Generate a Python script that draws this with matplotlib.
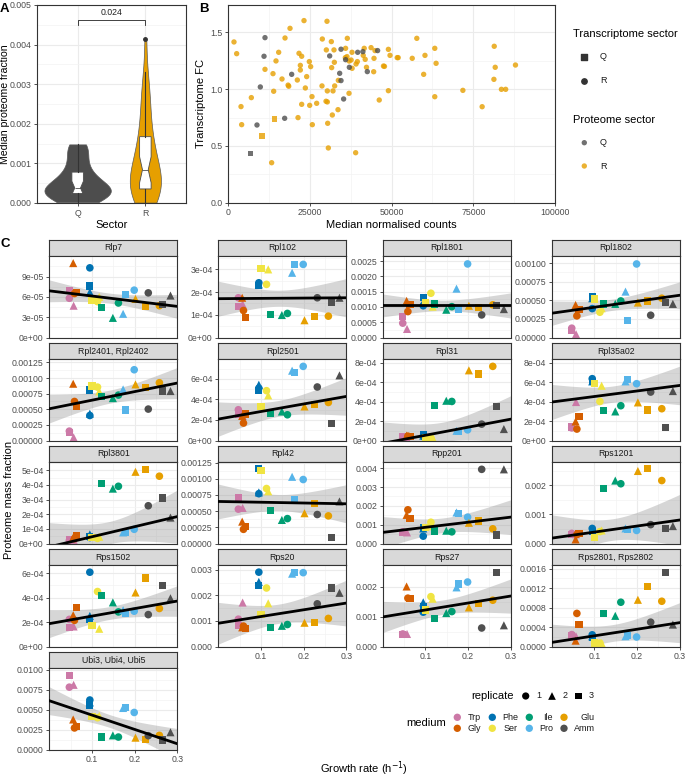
import numpy as np
import matplotlib
matplotlib.use("Agg")
import matplotlib.pyplot as plt

plt.rcParams['font.family'] = ['Liberation Sans', 'DejaVu Sans']

# ---------------- data ----------------
# panel A: median proteome fraction per protein, by sector
q_frac = [0.00002, 0.00006, 0.0001, 0.00015, 0.00019, 0.00022, 0.00024, 0.00027, 0.0003, 0.00033,
          0.00035, 0.00036, 0.00038, 0.00042, 0.00048, 0.00055, 0.00063, 0.00072, 0.00078, 0.0009,
          0.00105, 0.0012, 0.00135, 0.00143, 0.00148]
r_frac = [0.00001, 0.00004, 0.00008, 0.00012, 0.00016, 0.0002, 0.00024, 0.00028, 0.00031, 0.00034,
          0.00036, 0.0004, 0.00045, 0.0005, 0.00056, 0.00062, 0.00068, 0.00074, 0.0008, 0.00083,
          0.00085, 0.0009, 0.00098, 0.00107, 0.00116, 0.00125, 0.00135, 0.00146, 0.00158, 0.00166,
          0.00172, 0.0019, 0.0021, 0.0023, 0.0025, 0.0026, 0.0028, 0.003, 0.0033, 0.00413]
p_value = "0.024"

# panel B: median normalised counts vs transcriptome FC
# proteome R / transcriptome R (orange circles)
rr_counts = [1740, 2560, 3890, 4090, 7050, 11230, 13270, 13680, 13890, 14600, 15420, 16440, 17360,
             18300, 18500, 18890, 21130, 21340, 21640, 22050, 22050, 22460, 22460, 23170, 23580,
             23990, 24800, 25210, 24910, 25620, 25720, 27050, 28680, 28780, 30010, 30210, 29910,
             30310, 30310, 30420, 30620, 31540, 31640, 31840, 32050, 32350, 32460, 32560, 33580,
             33680, 35820, 36330, 36430, 35900, 36950, 37860, 37000, 37900, 37600, 38980, 39100,
             39500, 41300, 41600, 41900, 42300, 43700, 44600, 44500, 44900, 46200, 47500, 47800,
             49000, 49000, 49500, 51700, 52000, 56300, 57700, 59800, 60200, 63200, 63200, 63600,
             71800, 77700, 81300, 81400, 81700, 83600, 84900, 87900]
rr_fc = [1.415, 1.312, 0.846, 0.687, 0.925, 1.174, 0.352, 1.136, 0.981, 1.248, 1.324, 1.089, 1.45,
         1.035, 1.025, 1.535, 1.080, 0.749, 1.315, 1.209, 1.168, 1.289, 0.866, 1.603, 1.010,
         1.110, 1.242, 1.198, 0.857, 0.934, 0.687, 0.875, 1.028, 1.441, 1.345, 1.597, 0.893,
         0.887, 0.984, 0.699, 0.482, 1.418, 1.189, 0.772, 0.984, 1.345, 1.236, 1.028, 0.819,
         1.077, 1.277, 1.286, 1.447, 1.359, 0.963, 1.324, 1.247, 1.183, 1.256, 0.440, 1.221,
         1.242, 1.297, 1.359, 1.262, 1.192, 1.365, 1.271, 1.153, 1.339, 0.904, 1.203, 1.200,
         0.986, 1.350, 1.297, 1.277, 1.277, 1.271, 1.447, 1.130, 1.297, 1.359, 0.933, 1.227,
         0.989, 0.845, 1.086, 1.377, 1.192, 0.998, 0.998, 1.212]
# proteome Q / transcriptome R (grey circles)
qr_counts = [8780, 9800, 10930, 11230, 17250, 19400, 31030, 34090, 34500, 34500, 35300, 35900,
             37050, 39600, 41200, 42550, 45700]
qr_fc = [0.684, 1.019, 1.289, 1.453, 0.743, 1.130, 1.292, 1.139, 1.351, 1.075, 0.913, 1.259,
         1.192, 1.324, 1.330, 1.154, 1.339]
# transcriptome Q (squares)
qq_counts = [6740]
qq_fc = [0.435]
rq_counts = [10300, 14090]
rq_fc = [0.587, 0.737]

# panel C: growth rates, order = medium x replicate(1, 2, 3)
media = ['Trp', 'Gly', 'Phe', 'Ser', 'Ile', 'Pro', 'Glu', 'Amm']
medium_colors = ['#CC79A7', '#D55E00', '#0072B2', '#F0E442', '#009E73', '#56B4E9', '#E69F00', '#505050']
replicates = ['1', '2', '3']
growth = [0.047, 0.057, 0.047,
          0.059, 0.056, 0.064,
          0.095, 0.095, 0.095,
          0.113, 0.117, 0.100,
          0.162, 0.149, 0.122,
          0.199, 0.173, 0.178,
          0.258, 0.202, 0.225,
          0.232, 0.284, 0.266]

rlp7 = [5.8e-5, 4.7e-5, 7.0e-5, 6.5e-5, 1.10e-4, 6.7e-5, 1.03e-4, 6.7e-5, 7.6e-5, 5.3e-5, 6.0e-5, 5.5e-5,
        5.1e-5, 2.9e-5, 4.4e-5, 7.0e-5, 3.5e-5, 6.4e-5, 4.7e-5, 5.7e-5, 4.6e-5, 6.6e-5, 6.2e-5, 4.9e-5]
rpl102 = [1.75e-4, 1.47e-4, 1.38e-4, 1.19e-4, 1.75e-4, 8.8e-5, 2.41e-4, 2.34e-4, 2.29e-4, 2.34e-4, 3.0e-4, 3.03e-4,
          1.06e-4, 9.9e-5, 1.0e-4, 3.22e-4, 2.85e-4, 3.22e-4, 9.4e-5, 7.6e-5, 9.4e-5, 1.75e-4, 1.75e-4, 1.56e-4]
rpl1801 = [4.7e-4, 2.8e-4, 6.9e-4, 8.5e-4, 1.2e-3, 1.07e-3, 1.04e-3, 1.15e-3, 1.3e-3, 1.45e-3, 1.01e-3, 1.15e-3,
           1.01e-3, 9.1e-4, 1.1e-3, 2.41e-3, 1.6e-3, 9.1e-4, 1.07e-3, 1.04e-3, 9.8e-4, 7.4e-4, 9.3e-4, 1.04e-3]
rpl1802 = [1.25e-4, 4.5e-5, 8.9e-5, 2.9e-4, 4.37e-4, 3.79e-4, 3.88e-4, 5.27e-4, 5.49e-4, 3.39e-4, 3.93e-4, 5.18e-4,
           4.91e-4, 4.51e-4, 4.51e-4, 9.87e-4, 6.16e-4, 2.28e-4, 5.27e-4, 4.69e-4, 4.91e-4, 2.99e-4, 4.51e-4, 4.73e-4]
rpl2401 = [1.5e-4, 5e-5, 1.25e-4, 6.25e-4, 9.09e-4, 5.45e-4, 4.0e-4, 4.3e-4, 8.08e-4, 8.55e-4, 7.86e-4, 8.71e-4,
           7.27e-4, 6.79e-4, 7.05e-4, 1.133e-3, 8.18e-4, 4.87e-4, 9.25e-4, 8.98e-4, 8.45e-4, 5.03e-4, 7.92e-4, 7.92e-4]
rpl2501 = [3.0e-4, 2.4e-4, 2.5e-4, 1.7e-4, 2.4e-4, 2.58e-4, 5.1e-4, 5.44e-4, 4.86e-4, 4.86e-4, 4.4e-4, 3.32e-4,
           2.51e-4, 2.83e-4, 2.68e-4, 7.23e-4, 6.81e-4, 6.64e-4, 3.71e-4, 3.32e-4, 3.49e-4, 5.22e-4, 6.35e-4, 1.66e-4]
rpl31 = [3e-5, 2e-5, 3.5e-5, 4.5e-5, 5e-5, 4e-5, 4e-5, 5e-5, 5.9e-5, 2.5e-5, 3e-5, 2.5e-5,
         4.03e-4, 4.1e-4, 3.59e-4, 1.1e-4, 1.0e-4, 9e-5, 7.65e-4, 7.24e-4, 6.86e-4, 1.69e-4, 1.18e-4, 3.48e-4]
rpl35a02 = [1.3e-4, 3.97e-4, 1.4e-4, 1.18e-4, 1.96e-4, 2.48e-4, 6.38e-4, 6.1e-4, 6.1e-4, 4.03e-4, 5.65e-4, 5.86e-4,
            3.59e-4, 3.0e-4, 3.07e-4, 5.86e-4, 6.1e-4, 6.27e-4, 3.28e-4, 3.93e-4, 3.14e-4, 5.0e-4, 5.1e-4, 1.38e-4]
rpl3801 = [2e-5, 2.5e-5, 2.5e-5, 3.3e-5, 4.1e-5, 5.7e-5, 4.1e-5, 6.2e-5, 5e-5, 3.5e-5, 4.6e-5, 3.9e-5,
           3.91e-4, 3.75e-4, 4.1e-4, 9.7e-5, 7.6e-5, 7.3e-5, 4.6e-4, 4.9e-4, 5.07e-4, 2.58e-4, 1.77e-4, 3.11e-4]
rpl42 = [5.31e-4, 5.5e-4, 7.13e-4, 2.19e-4, 3.38e-4, 2.6e-4, 7.7e-4, 7.9e-4, 1.156e-3, 8.5e-4, 8.07e-4, 1.13e-3,
         3.85e-4, 3.64e-4, 5.05e-4, 9.89e-4, 1.031e-3, 6.77e-4, 4.27e-4, 4.68e-4, 6.14e-4, 4.48e-4, 6.5e-4, 8.8e-5]
rpp201 = [6.2e-4, 5.9e-4, 5.9e-4, 1.79e-3, 1.52e-3, 1.34e-3, 3.9e-4, 8e-4, 8.5e-4, 1.13e-3, 9.2e-4, 8.6e-4,
          6.2e-4, 6.8e-4, 6.6e-4, 1.4e-3, 1.65e-3, 1.61e-3, 7.8e-4, 1.1e-3, 1.19e-3, 3.94e-3, 3.94e-3, 4.5e-4]
rps1201 = [3.49e-4, 3.2e-4, 3.1e-4, 3.1e-4, 1.4e-4, 3.35e-4, 5.2e-4, 4.7e-4, 4.1e-4, 4.1e-4, 4.5e-4, 1.97e-4,
           2.06e-3, 2.17e-3, 1.89e-3, 4.5e-4, 5.2e-4, 4.9e-4, 2.17e-3, 2.5e-3, 2.58e-3, 6.5e-4, 6.0e-4, 5.2e-4]
rps1502 = [2.22e-4, 1.64e-4, 1.58e-4, 2.14e-4, 2.56e-4, 3.17e-4, 6.08e-4, 2.5e-4, 2.2e-4, 4.5e-4, 1.45e-4, 1.73e-4,
           2.83e-4, 3.61e-4, 4.17e-4, 2.89e-4, 2.97e-4, 2.7e-4, 3.11e-4, 4.42e-4, 5.61e-4, 2.61e-4, 3.95e-4, 5.0e-4]
rps20 = [1.07e-3, 1.72e-3, 8.3e-4, 8e-4, 7.5e-4, 7e-4, 2.91e-3, 2.53e-3, 2.38e-3, 2.29e-3, 1.69e-3, 1.26e-3,
         8.6e-4, 8.1e-4, 7.4e-4, 2.89e-3, 2.85e-3, 2.89e-3, 1.1e-3, 9.3e-4, 9.5e-4, 1.67e-3, 2.1e-3, 2.29e-3]
rps27 = [4.2e-4, 4.2e-4, 3.9e-4, 1.62e-3, 2.01e-3, 1.6e-3, 1.15e-3, 1.48e-3, 1.32e-3, 1.67e-3, 1.6e-3, 1.22e-3,
         1.17e-3, 1.12e-3, 9.4e-4, 2.16e-3, 1.98e-3, 2.09e-3, 1.55e-3, 1.31e-3, 1.44e-3, 6.2e-4, 7.1e-4, 2.49e-3]
rps2801 = [2.45e-4, 2.1e-4, 2.2e-4, 6.8e-4, 1.2e-4, 4.5e-4, 2.4e-4, 2.1e-4, 1.8e-4, 7e-5, 7e-5, 7e-5,
           9.1e-4, 6.3e-4, 6.8e-4, 1.95e-4, 2.1e-4, 2.3e-4, 9.3e-4, 9.6e-4, 1.24e-3, 5e-4, 4.5e-4, 1.52e-3]
ubi = [7.81e-3, 8.1e-3, 9.28e-3, 2.7e-3, 3.76e-3, 2.91e-3, 6.2e-3, 5.9e-3, 5.57e-3, 3.98e-3, 4.2e-3, 4.09e-3,
       1.56e-3, 1.77e-3, 1.56e-3, 4.64e-3, 5.2e-3, 5.28e-3, 1.77e-3, 1.48e-3, 1.22e-3, 1.73e-3, 2.16e-3, 1.2e-3]

facet_names = ['Rlp7', 'Rpl102', 'Rpl1801', 'Rpl1802', 'Rpl2401, Rpl2402', 'Rpl2501', 'Rpl31', 'Rpl35a02',
               'Rpl3801', 'Rpl42', 'Rpp201', 'Rps1201', 'Rps1502', 'Rps20', 'Rps27', 'Rps2801, Rps2802',
               'Ubi3, Ubi4, Ubi5']
facet_values = [rlp7, rpl102, rpl1801, rpl1802, rpl2401, rpl2501, rpl31, rpl35a02,
                rpl3801, rpl42, rpp201, rps1201, rps1502, rps20, rps27, rps2801, ubi]
# fitted trend per facet: value at growth 0 and at growth 0.3
fit_start = [6.9e-5, 1.71e-4, 1.05e-3, 3.26e-4, 5.08e-4, 2.09e-4, -2.9e-5, 3.97e-4,
             -2.3e-5, 6.5e-4, 5.9e-4, 1.85e-4, 1.87e-4, 9.1e-4, 9.9e-4, 8.4e-5, 6.11e-3]
fit_end = [4.6e-5, 1.75e-4, 1.05e-3, 5.67e-4, 9.2e-4, 4.3e-4, 2.2e-4, 5.68e-4,
           1.84e-4, 6.14e-4, 1.40e-3, 8.1e-4, 3.72e-4, 1.7e-3, 1.69e-3, 4.9e-4, 7.2e-4]
facet_ytop = [1.205e-4, 3.59e-4, 2.67e-3, 1.094e-3, 1.305e-3, 7.95e-4, 8.41e-4, 8.41e-4,
              5.57e-4, 1.26e-3, 4.33e-3, 2.81e-3, 6.67e-4, 3.19e-3, 2.73e-3, 1.675e-3, 0.01021]
facet_yticks = [
    ["0e+00", "3e-05", "6e-05", "9e-05"],
    ["0e+00", "1e-04", "2e-04", "3e-04"],
    ["0.0000", "0.0005", "0.0010", "0.0015", "0.0020", "0.0025"],
    ["0.00000", "0.00025", "0.00050", "0.00075", "0.00100"],
    ["0.00000", "0.00025", "0.00050", "0.00075", "0.00100", "0.00125"],
    ["0e+00", "2e-04", "4e-04", "6e-04"],
    ["0e+00", "2e-04", "4e-04", "6e-04", "8e-04"],
    ["0e+00", "2e-04", "4e-04", "6e-04", "8e-04"],
    ["0e+00", "1e-04", "2e-04", "3e-04", "4e-04", "5e-04"],
    ["0.00000", "0.00025", "0.00050", "0.00075", "0.00100", "0.00125"],
    ["0.000", "0.001", "0.002", "0.003", "0.004"],
    ["0.000", "0.001", "0.002"],
    ["0e+00", "2e-04", "4e-04", "6e-04"],
    ["0.000", "0.001", "0.002", "0.003"],
    ["0.000", "0.001", "0.002"],
    ["0.0000", "0.0004", "0.0008", "0.0012", "0.0016"],
    ["0.0000", "0.0025", "0.0050", "0.0075", "0.0100"],
]

# ---------------- layout helpers ----------------
W, H = 685, 779
fig = plt.figure(figsize=(W / 100, H / 100), dpi=100)


def px_axes(left, top, width, height):
    return fig.add_axes([left / W, 1 - (top + height) / H, width / W, height / H])


def style(ax):
    for s in ax.spines.values():
        s.set_color('#333333')
        s.set_linewidth(0.8)
    ax.tick_params(which='major', colors='#333333', labelcolor='#4D4D4D', labelsize=6.3,
                   length=2.5, width=0.6, pad=1.5)
    ax.tick_params(which='minor', length=0)
    ax.grid(True, which='major', color='#EBEBEB', lw=0.8)
    ax.grid(True, which='minor', color='#F3F3F3', lw=0.5)
    ax.set_axisbelow(True)


# ---------------- panel A ----------------
axA = px_axes(37, 5, 149, 198)
style(axA)
vp = axA.violinplot([q_frac, r_frac], positions=[1, 2], widths=[0.98, 0.46], showextrema=False)
for body, c in zip(vp['bodies'], ['#4D4D4D', '#E69F00']):
    body.set_facecolor(c)
    body.set_edgecolor('#5A5A5A')
    body.set_linewidth(0.5)
    body.set_alpha(1)
axA.boxplot([q_frac, r_frac], positions=[1, 2], widths=0.17, notch=True, patch_artist=True,
            showcaps=False,
            boxprops=dict(facecolor='white', edgecolor='#4D4D4D', linewidth=0.6),
            whiskerprops=dict(color='#333333', linewidth=0.8),
            medianprops=dict(color='#4D4D4D', linewidth=0.6),
            flierprops=dict(marker='o', markersize=2.5, markerfacecolor='#333333',
                            markeredgecolor='#333333'))
axA.plot([1, 1, 2, 2], [0.00450, 0.00463, 0.00463, 0.00450], color='#222222', lw=0.6)
axA.text(1.5, 0.00470, p_value, ha='center', va='bottom', fontsize=6.3, color='#222222')
axA.set_xlim(0.4, 2.6)
axA.set_ylim(0, 0.005)
axA.set_yticks(np.arange(0, 0.0051, 0.001))
axA.set_yticklabels(['0.000', '0.001', '0.002', '0.003', '0.004', '0.005'])
axA.set_yticks(np.arange(0.0005, 0.005, 0.001), minor=True)
axA.set_xticks([1, 2])
axA.set_xticklabels(['Q', 'R'])
axA.set_xlabel('Sector', fontsize=8, labelpad=2)

# ---------------- panel B ----------------
axB = px_axes(228.3, 4.7, 326.7, 198)
style(axB)
axB.scatter(rr_counts, rr_fc, s=15, color='#E69F00', alpha=0.8, edgecolors='none')
axB.scatter(qr_counts, qr_fc, s=15, color='#4D4D4D', alpha=0.8, edgecolors='none')
axB.scatter(qq_counts, qq_fc, s=14, marker='s', color='#4D4D4D', alpha=0.8, edgecolors='none')
axB.scatter(rq_counts, rq_fc, s=14, marker='s', color='#E69F00', alpha=0.8, edgecolors='none')
axB.set_xlim(0, 100000)
axB.set_ylim(0, 1.743)
axB.set_xticks([0, 25000, 50000, 75000, 100000])
axB.set_xticklabels(['0', '25000', '50000', '75000', '100000'])
axB.set_xticks([12500, 37500, 62500, 87500], minor=True)
axB.set_yticks([0, 0.5, 1.0, 1.5])
axB.set_yticklabels(['0.0', '0.5', '1.0', '1.5'])
axB.set_yticks([0.25, 0.75, 1.25], minor=True)
axB.set_xlabel('Median normalised counts', fontsize=8, labelpad=2)
axB.set_ylabel('Transcriptome FC', fontsize=8, labelpad=3)

# ---------------- panel C ----------------
col_left = [49.3, 218.3, 382.7, 551.7]
t_crit = 2.0739  # t(0.975, df=22)
gr = np.array(growth)
markers = ['o', '^', 's']
msize = {'o': 30, '^': 34, 's': 27}
xs = np.linspace(0, 0.3, 200)
n_facets = len(facet_names)
for i, (name, vals) in enumerate(zip(facet_names, facet_values)):
    r, c = divmod(i, 4)
    top = 240 + r * 103
    st = px_axes(col_left[c], top, 128, 16)
    st.set_facecolor('#D9D9D9')
    st.set_xticks([])
    st.set_yticks([])
    for s in st.spines.values():
        s.set_color('#333333')
        s.set_linewidth(0.8)
    st.text(0.5, 0.5, name, ha='center', va='center', fontsize=6.3, color='#1A1A1A',
            transform=st.transAxes)

    ax = px_axes(col_left[c], top + 16, 128, 81.5)
    style(ax)
    y = np.array(vals)
    # trend line and 95% band from the scatter about it
    slope = (fit_end[i] - fit_start[i]) / 0.3
    pred = fit_start[i] + slope * xs
    resid = y - (fit_start[i] + slope * gr)
    n = len(y)
    rv = np.sum(resid ** 2) / (n - 2)
    sxx = np.sum((gr - gr.mean()) ** 2)
    se = np.sqrt(rv * (1 / n + (xs - gr.mean()) ** 2 / sxx))
    ax.fill_between(xs, pred - t_crit * se, pred + t_crit * se, color='#999999', alpha=0.4,
                    lw=0, zorder=1)
    for k in range(n):
        m = markers[k % 3]
        ax.scatter(gr[k], y[k], marker=m, s=msize[m], color=medium_colors[k // 3],
                   edgecolors='none', zorder=2)
    ax.plot(xs, pred, color='black', lw=2, zorder=3)

    ax.set_xlim(0, 0.3)
    ax.set_ylim(0, facet_ytop[i])
    labels = facet_yticks[i]
    ticks = [float(t) for t in labels]
    ax.set_yticks(ticks)
    ax.set_yticklabels(labels)
    step = ticks[1] - ticks[0]
    ax.set_yticks(np.arange(step / 2, facet_ytop[i], step), minor=True)
    ax.set_xticks([0.1, 0.2, 0.3])
    ax.set_xticklabels(['0.1', '0.2', '0.3'])
    ax.set_xticks([0.05, 0.15, 0.25], minor=True)
    bottom_row = (i + 4 >= n_facets)
    if not bottom_row:
        ax.tick_params(axis='x', which='major', length=0, labelbottom=False)

# ---------------- labels and legends (figure pixel space) ----------------
ov = fig.add_axes([0, 0, 1, 1], facecolor='none')
ov.set_xlim(0, W)
ov.set_ylim(H, 0)
ov.axis('off')

ov.text(4, 9, 'A', fontsize=9.5, fontweight='bold', ha='center', va='center')
ov.text(204, 9, 'B', fontsize=9.5, fontweight='bold', ha='center', va='center')
ov.text(5, 244, 'C', fontsize=9.5, fontweight='bold', ha='center', va='center')
ov.text(5.5, 104, 'Median proteome fraction', fontsize=7.6, rotation=90, ha='center', va='center')
ov.text(9, 500, 'Proteome mass fraction', fontsize=8, rotation=90, ha='center', va='center')
ov.text(364.5, 769, 'Growth rate (h$^{-1}$)', fontsize=8, ha='center', va='center')

# panel B legend
ov.text(573, 34, 'Transcriptome sector', fontsize=8, ha='left', va='center')
ov.scatter([584.3], [56.7], marker='s', s=14, color='#333333')
ov.scatter([584.3], [80.7], marker='o', s=15, color='#333333')
ov.text(600, 56.7, 'Q', fontsize=6.5, ha='left', va='center', color='#1A1A1A')
ov.text(600, 80.7, 'R', fontsize=6.5, ha='left', va='center', color='#1A1A1A')
ov.text(573, 120, 'Proteome sector', fontsize=8, ha='left', va='center')
ov.scatter([584.3], [142.7], marker='o', s=15, color='#4D4D4D', alpha=0.8, edgecolors='none')
ov.scatter([584.3], [166], marker='o', s=15, color='#E69F00', alpha=0.8, edgecolors='none')
ov.text(600, 142.7, 'Q', fontsize=6.5, ha='left', va='center', color='#1A1A1A')
ov.text(600, 166, 'R', fontsize=6.5, ha='left', va='center', color='#1A1A1A')

# panel C legends
ov.text(514, 696, 'replicate', fontsize=8, ha='right', va='center')
for j, (m, lab) in enumerate(zip(markers, replicates)):
    xk = 525.7 + j * 26.3
    ov.scatter([xk], [696], marker=m, s=msize[m] * 0.9, color='black', edgecolors='none')
    ov.text(xk + 10.5, 696, lab, fontsize=6.5, ha='left', va='center', color='#1A1A1A')
ov.text(446, 723, 'medium', fontsize=8, ha='right', va='center')
key_x = [457.3, 492.3, 529.3, 564]
lab_x = [481, 518, 553, 595]
for j, (med, col) in enumerate(zip(media, medium_colors)):
    cx, rw = divmod(j, 2)
    yk = 717.3 + rw * 11
    ov.scatter([key_x[cx]], [yk], marker='o', s=28, color=col, edgecolors='none')
    ov.text(lab_x[cx], yk, med, fontsize=6.5, ha='right', va='center', color='#1A1A1A')

fig.savefig('out.png', dpi=100)
